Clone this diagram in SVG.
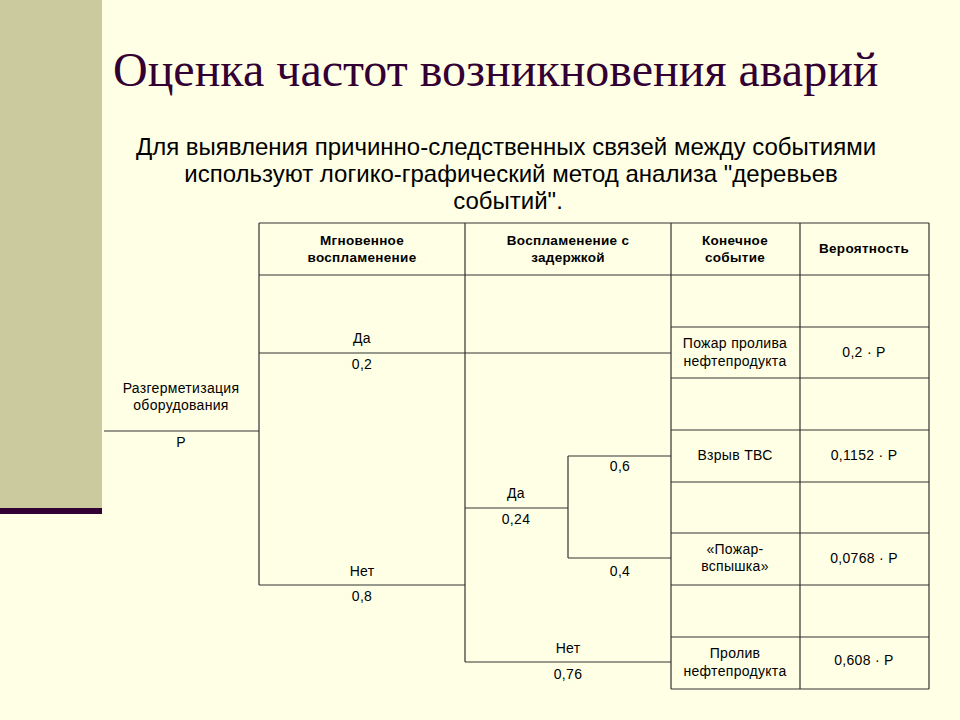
<svg xmlns="http://www.w3.org/2000/svg" width="960" height="720" viewBox="0 0 960 720">
<style>
.t{font-family:"Liberation Sans",Arial,sans-serif;font-size:14px;letter-spacing:0.3px;fill:#000;text-anchor:middle}
.h{font-weight:bold;font-size:13.5px}
.ln{stroke:#333;stroke-width:1.2;fill:none}
</style>
<rect x="0" y="0" width="960" height="720" fill="#FFFFE5"/>
<rect x="0" y="0" width="102" height="508" fill="#CACA9E"/>
<rect x="0" y="508" width="102" height="6" fill="#330033"/>
<text x="113" y="86" font-family="'Liberation Serif','Times New Roman',serif" font-size="48" fill="#330033">Оценка частот возникновения аварий</text>
<g font-family="'Liberation Sans',Arial,sans-serif" font-size="24" fill="#000" text-anchor="middle">
<text x="506" y="155">Для выявления причинно-следственных связей между событиями</text>
<text x="511" y="182">используют логико-графический метод анализа "деревьев</text>
<text x="508" y="209">событий".</text>
</g>
<g id="connectors" class="ln">
<path d="M259,223 H929 M259,275 H929 M259,223 V585 M465,223 V662 M671,223 V689 M800,223 V689 M929,223 V689"/>
<path d="M671,327 H929 M671,378 H929 M671,430 H929 M671,482 H929 M671,533 H929 M671,585 H929 M671,637 H929 M671,689 H929"/>
<path d="M104,431 H259 M259,353 H671 M259,585 H465 M465,508 H568 M568,456 V558 M568,456 H671 M568,558 H671 M465,662 H671"/>
</g>
<g id="header">
<text class="t h" x="362" y="245">Мгновенное</text>
<text class="t h" x="362" y="262">воспламенение</text>
<text class="t h" x="568" y="245">Воспламенение с</text>
<text class="t h" x="568" y="262">задержкой</text>
<text class="t h" x="735" y="245">Конечное</text>
<text class="t h" x="735" y="262">событие</text>
<text class="t h" x="864" y="253">Вероятность</text>
</g>
<g id="node-start">
<text class="t" x="181" y="393">Разгерметизация</text>
<text class="t" x="181" y="410">оборудования</text>
<text class="t" x="181" y="447">P</text>
</g>
<g id="node-instant">
<text class="t" x="362" y="343">Да</text>
<text class="t" x="362" y="369">0,2</text>
<text class="t" x="362" y="576">Нет</text>
<text class="t" x="362" y="601">0,8</text>
</g>
<g id="node-delayed">
<text class="t" x="516" y="498">Да</text>
<text class="t" x="516" y="524">0,24</text>
<text class="t" x="568" y="653">Нет</text>
<text class="t" x="568" y="679">0,76</text>
<text class="t" x="620" y="471">0,6</text>
<text class="t" x="620" y="576">0,4</text>
</g>
<g id="node-fire">
<text class="t" x="735" y="348">Пожар пролива</text>
<text class="t" x="735" y="366">нефтепродукта</text>
<text class="t" x="864" y="357">0,2 · P</text>
</g>
<g id="node-explosion">
<text class="t" x="735" y="460">Взрыв ТВС</text>
<text class="t" x="864" y="460">0,1152 · P</text>
</g>
<g id="node-flash">
<text class="t" x="735" y="554">«Пожар-</text>
<text class="t" x="735" y="571">вспышка»</text>
<text class="t" x="864" y="563">0,0768 · P</text>
</g>
<g id="node-spill">
<text class="t" x="735" y="658">Пролив</text>
<text class="t" x="735" y="676">нефтепродукта</text>
<text class="t" x="864" y="665">0,608 · P</text>
</g>
</svg>
